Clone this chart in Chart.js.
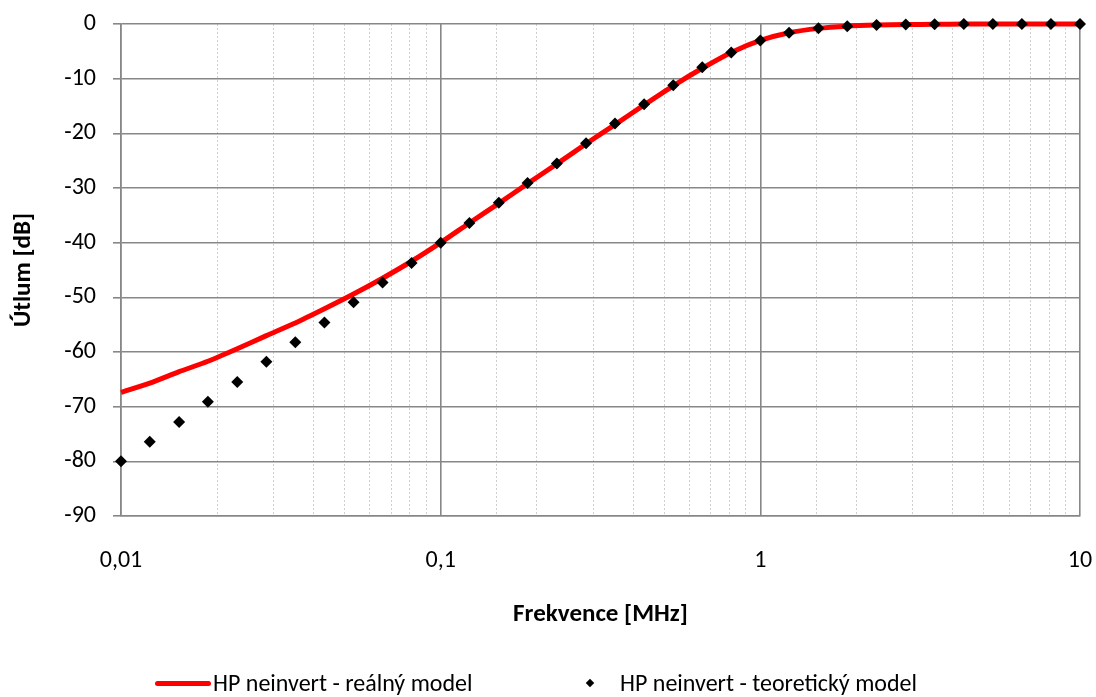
<!DOCTYPE html>
<html><head><meta charset="utf-8">
<script src="https://cdn.jsdelivr.net/npm/chart.js@4"></script>
<style>
html,body{margin:0;padding:0;background:#fff;}
#wrap{position:relative;width:1096px;height:697px;overflow:hidden;}
canvas{position:absolute;left:0;top:0;}
.leg{position:absolute;font-family:Carlito,Lato,sans-serif;font-size:24px;color:#000;white-space:nowrap;line-height:28px;}
.sw-line{position:absolute;background:#ff0000;border-radius:3px;}
.sw-dia{position:absolute;background:#000;transform:rotate(45deg);}
</style></head><body>
<div id="wrap">
<canvas id="c" width="1096" height="697"></canvas>
<div id="legend"></div>
</div>
<script>
// Frequency [MHz]
const frequencies = [0.01, 0.0123, 0.0152, 0.0187, 0.0231, 0.0285, 0.0351, 0.0433, 0.0534, 0.0658, 0.0811,
  0.1, 0.123, 0.152, 0.187, 0.231, 0.285, 0.351, 0.433, 0.534, 0.658, 0.811,
  1, 1.23, 1.52, 1.87, 2.31, 2.85, 3.51, 4.33, 5.34, 6.58, 8.11, 10];
// HP neinvert - reálný model [dB]
const realModel = [-67.4, -65.7, -63.6, -61.7, -59.4, -57.0, -54.7, -52.1, -49.4, -46.5, -43.4,
  -40.0, -36.4, -32.8, -29.2, -25.6, -21.9, -18.4, -14.8, -11.3, -8.1, -5.2,
  -3.0, -1.6, -0.8, -0.4, -0.2, -0.1, -0.05, -0.02, -0.01, 0, 0, 0];
// HP neinvert - teoretický model [dB]
const theoreticalModel = [-80.0, -76.4, -72.8, -69.1, -65.5, -61.8, -58.2, -54.6, -50.9, -47.3, -43.7,
  -40.0, -36.4, -32.7, -29.1, -25.5, -21.8, -18.2, -14.7, -11.2, -7.9, -5.2,
  -3.0, -1.6, -0.8, -0.4, -0.2, -0.1, -0.04, -0.02, -0.01, 0, 0, 0];
const seriesNames = ['HP neinvert - reálný model', 'HP neinvert - teoretický model'];
const xTickValues = [0.01, 0.1, 1, 10];
const xTickLabels = ['0,01', '0,1', '1', '10'];
const yTickValues = [0, -10, -20, -30, -40, -50, -60, -70, -80, -90];
const yTickLabels = ['0', '-10', '-20', '-30', '-40', '-50', '-60', '-70', '-80', '-90'];
const xTitle = 'Frekvence [MHz]';
const yTitle = 'Útlum [dB]';

const FONT = 'Carlito, Lato, sans-serif';
const GRID = '#878787';
const isDecade = v => Math.abs(Math.log10(v) - Math.round(Math.log10(v))) < 1e-6;
const labelFor = v => {
  const i = xTickValues.findIndex(t => Math.abs(Math.log10(t) - Math.log10(v)) < 1e-6);
  return i >= 0 ? xTickLabels[i] : '';
};

new Chart(document.getElementById('c'), {
  type: 'line',
  data: {
    datasets: [
      {
        label: seriesNames[0],
        data: frequencies.map((f, i) => ({x: f, y: realModel[i]})),
        borderColor: '#ff0000',
        backgroundColor: '#ff0000',
        borderWidth: 5,
        pointRadius: 0,
        tension: 0.2,
        clip: false,
        order: 1
      },
      {
        label: seriesNames[1],
        data: frequencies.map((f, i) => ({x: f, y: theoreticalModel[i]})),
        showLine: false,
        pointStyle: 'rectRot',
        pointRadius: 6,
        borderWidth: 0,
        backgroundColor: '#000',
        borderColor: '#000',
        clip: false,
        order: 0
      }
    ]
  },
  options: {
    responsive: false,
    animation: false,
    devicePixelRatio: 1,
    layout: {padding: {left: 0, top: 24, right: 16, bottom: 0}},
    plugins: {legend: {display: false}, tooltip: {enabled: false}},
    scales: {
      x: {
        type: 'logarithmic',
        position: 'bottom',
        min: 0.01, max: 10,
        afterFit: s => { s.height = 181; s.paddingLeft = 0; s.paddingRight = 0; },
        border: {display: true, color: GRID, width: 1.6},
        grid: {
          drawTicks: false,
          lineWidth: 1.6,
          color: c => (c.tick && isDecade(c.tick.value)) ? GRID : 'rgba(0,0,0,0)'
        },
        ticks: {
          autoSkip: false, maxRotation: 0, padding: 31,
          color: '#000',
          font: {family: FONT, size: 24},
          callback: v => labelFor(v)
        },
        title: {
          display: true, text: xTitle, color: '#000',
          font: {family: FONT, size: 25, weight: 'bold'},
          padding: {top: 0, bottom: 67}
        }
      },
      xMinor: {
        type: 'logarithmic',
        position: 'top',
        min: 0.01, max: 10,
        afterFit: s => { s.height = 0; s.paddingLeft = 0; s.paddingRight = 0; },
        border: {display: false, dash: [2, 2]},
        grid: {
          drawTicks: false,
          lineWidth: 1,
          color: c => (c.tick && !isDecade(c.tick.value)) ? '#cfcfcf' : 'rgba(0,0,0,0)'
        },
        ticks: {display: false, autoSkip: false}
      },
      y: {
        min: -90, max: 0,
        afterFit: s => { s.width = 121; s.paddingTop = 0; s.paddingBottom = 0; },
        afterBuildTicks: s => { s.ticks = yTickValues.map(v => ({value: v})); },
        border: {display: true, color: GRID, width: 1.6},
        grid: {color: GRID, lineWidth: 1.6, drawTicks: true, tickLength: 8, tickColor: GRID, tickWidth: 1.6},
        ticks: {
          padding: 17, color: '#000',
          font: {family: FONT, size: 24},
          callback: v => { const i = yTickValues.indexOf(v); return i >= 0 ? yTickLabels[i] : ''; }
        },
        title: {
          display: true, text: yTitle, color: '#000',
          font: {family: FONT, size: 25, weight: 'bold'},
          padding: {top: 9, bottom: 0}
        }
      }
    }
  }
});

// legend
const leg = document.getElementById('legend');
leg.innerHTML =
  '<div class="sw-line" style="left:155px;top:681px;width:56px;height:5px"></div>' +
  '<div class="leg" style="left:213px;top:669px">' + seriesNames[0] + '</div>' +
  '<div class="sw-dia" style="left:587px;top:680px;width:6px;height:6px"></div>' +
  '<div class="leg" style="left:620px;top:669px">' + seriesNames[1] + '</div>';
</script>
</body></html>
